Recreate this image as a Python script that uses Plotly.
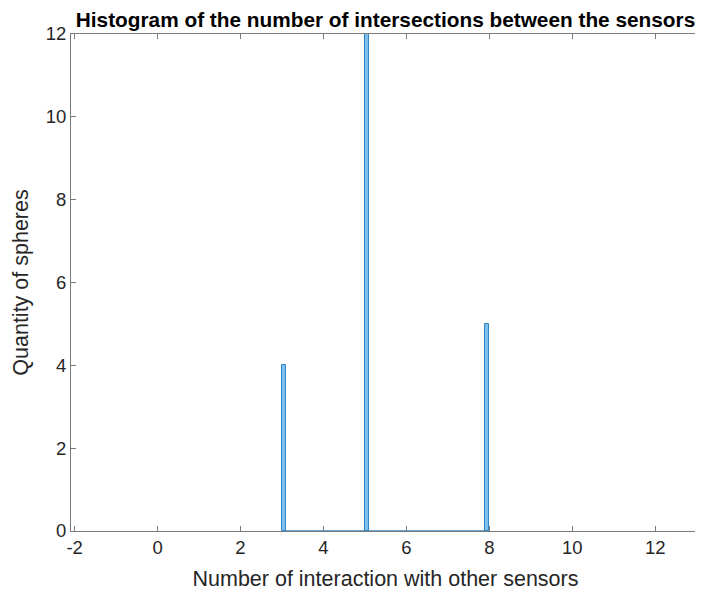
import plotly.graph_objects as go

# Data
values = [3, 5, 8]          # number of interactions with other sensors
counts = [4, 12, 5]         # quantity of spheres
bin_width = 0.1
bin_lo, bin_hi = 3.0, 8.0   # histogram range (empty bins drawn as baseline)

x_ticks = [-2, 0, 2, 4, 6, 8, 10, 12]
y_ticks = [0, 2, 4, 6, 8, 10, 12]

# Bin left edges (last bin closed on the right)
lefts = [min(v, bin_hi - bin_width) for v in values]
centers = [l + bin_width / 2 for l in lefts]

face = "#7DC1EC"
edge = "#2F86C8"
axcol = "#7a7a7a"
txtcol = "#262626"

W, H = 695, 584  # page body has an 8px margin

fig = go.Figure()
fig.add_trace(go.Scatter(
    x=[bin_lo, bin_hi], y=[0, 0], mode="lines",
    line=dict(color=edge, width=1.5), cliponaxis=False,
    hoverinfo="skip", showlegend=False))
fig.add_trace(go.Bar(
    x=centers, y=counts, width=bin_width,
    marker=dict(color=face, line=dict(color=edge, width=1)),
    showlegend=False))

fig.update_layout(
    width=W, height=H,
    margin=dict(l=63, r=3, t=26, b=61, autoexpand=False),
    paper_bgcolor="white", plot_bgcolor="white",
    font=dict(family="Liberation Sans, Arial, sans-serif", color=txtcol, size=18.5),
    title=dict(text="<b>Histogram of the number of intersections between the sensors</b>",
               x=0.5, xref="paper", xanchor="center",
               y=1 - 12 / H, yref="container", yanchor="middle",
               font=dict(size=20.8, color="black")),
    bargap=0,
)
fig.update_xaxes(
    range=[-2.087, 13.08], tickvals=x_ticks, ticktext=[str(t) for t in x_ticks],
    showgrid=False, zeroline=False, showline=True, linecolor=axcol, linewidth=1,
    mirror="ticks", ticks="inside", ticklen=5, tickcolor=axcol, automargin=False,
    title=dict(text="Number of interaction with other sensors", font=dict(size=21.5), standoff=13),
)
fig.update_yaxes(
    range=[0, 12], tickvals=y_ticks, ticktext=[str(t) for t in y_ticks],
    showgrid=False, zeroline=False, showline=True, linecolor=axcol, linewidth=1,
    mirror="ticks", ticks="inside", ticklen=5, tickcolor=axcol, automargin=False,
    title=dict(text="Quantity of spheres", font=dict(size=21.5), standoff=11),
)

fig.write_html("out.html")
